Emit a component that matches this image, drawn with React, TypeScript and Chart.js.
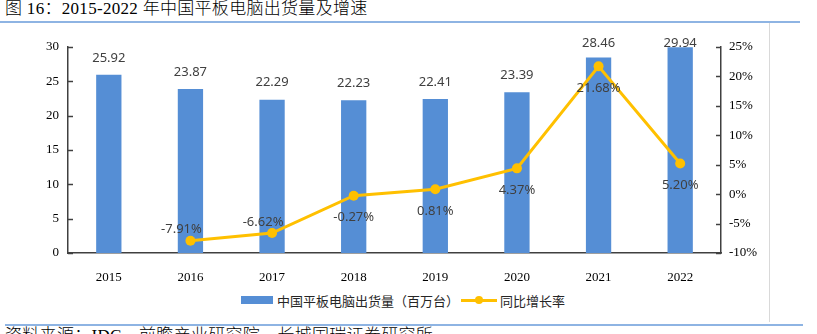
import React, { useEffect, useRef } from "react";
import { Chart, registerables } from "chart.js";

Chart.register(...registerables);

const years = ["2015", "2016", "2017", "2018", "2019", "2020", "2021", "2022"];
const shipments = [25.92, 23.87, 22.29, 22.23, 22.41, 23.39, 28.46, 29.94];
const growth = [null, -7.91, -6.62, -0.27, 0.81, 4.37, 21.68, 5.2];
const leftTicks = [0, 5, 10, 15, 20, 25, 30];
const rightTicks = [-10, -5, 0, 5, 10, 15, 20, 25];

const BAR_COLOR = "#558ED5";
const LINE_COLOR = "#FFC000";
const LABEL_COLOR = "#404040";
const AXIS_COLOR = "#404040";

const labelsPlugin = {
  id: "customLabels",
  afterDatasetsDraw(chart: any) {
    const ctx = chart.ctx;
    const area = chart.chartArea;
    ctx.save();
    ctx.font = '13px "Noto Sans", "Open Sans", sans-serif';
    ctx.fillStyle = LABEL_COLOR;
    ctx.textAlign = "center";
    ctx.textBaseline = "middle";
    const barMeta = chart.getDatasetMeta(0);
    barMeta.data.forEach((el: any, i: number) => {
      const y = Math.max(el.y - 17, area.top - 4);
      ctx.fillText(shipments[i].toFixed(2), el.x, y);
    });
    const lineMeta = chart.getDatasetMeta(1);
    lineMeta.data.forEach((el: any, i: number) => {
      const v = growth[i];
      if (v === null || v === undefined) return;
      const txt = v.toFixed(2) + "%";
      if (v < -1) {
        ctx.fillText(txt, el.x - 9, el.y - 11);
      } else {
        ctx.fillText(txt, el.x, el.y + 22);
      }
    });
    ctx.restore();
  },
};

const tickMarksPlugin = {
  id: "innerTicks",
  afterDraw(chart: any) {
    const ctx = chart.ctx;
    const y = chart.scales.y;
    const y1 = chart.scales.y1;
    ctx.save();
    ctx.strokeStyle = AXIS_COLOR;
    ctx.lineWidth = 1.5;
    leftTicks.forEach((t) => {
      const py = Math.round(y.getPixelForValue(t)) + 0.5;
      ctx.beginPath();
      ctx.moveTo(y.right, py);
      ctx.lineTo(y.right + 5, py);
      ctx.stroke();
    });
    rightTicks.forEach((t) => {
      const py = Math.round(y1.getPixelForValue(t)) + 0.5;
      ctx.beginPath();
      ctx.moveTo(y1.left - 5, py);
      ctx.lineTo(y1.left, py);
      ctx.stroke();
    });
    ctx.restore();
  },
};

export default function App() {
  const canvasRef = useRef<HTMLCanvasElement>(null);

  useEffect(() => {
    if (!canvasRef.current) return;
    const serifFont = { family: '"Liberation Serif", "Times New Roman", serif', size: 13 };
    const chart = new Chart(canvasRef.current, {
      type: "bar",
      data: {
        labels: years,
        datasets: [
          {
            type: "bar",
            label: "中国平板电脑出货量（百万台）",
            data: shipments,
            backgroundColor: BAR_COLOR,
            barPercentage: 1,
            categoryPercentage: 0.31,
            yAxisID: "y",
            order: 1,
          },
          {
            type: "line",
            label: "同比增长率",
            data: growth as any,
            borderColor: LINE_COLOR,
            backgroundColor: LINE_COLOR,
            borderWidth: 3,
            pointRadius: 5,
            pointBorderWidth: 0,
            pointBackgroundColor: LINE_COLOR,
            tension: 0,
            yAxisID: "y1",
            order: 0,
          },
        ],
      } as any,
      options: {
        responsive: false,
        animation: false,
        devicePixelRatio: 1,
        layout: { padding: { top: 12, left: 0, right: 0, bottom: 0 } },
        plugins: {
          legend: { display: false },
          tooltip: { enabled: false },
        },
        scales: {
          x: {
            grid: { display: false },
            border: { display: true, color: AXIS_COLOR, width: 1.5 },
            ticks: { color: "#000", font: serifFont, padding: 9 },
            afterFit: (s: any) => {
              s.height = 30;
            },
          },
          y: {
            position: "left",
            min: 0,
            max: 30,
            grid: { display: false, drawTicks: false },
            border: { display: true, color: AXIS_COLOR, width: 1.5 },
            ticks: { stepSize: 5, color: "#000", font: serifFont, padding: 9 },
            afterFit: (s: any) => {
              s.width = 68;
            },
          },
          y1: {
            position: "right",
            min: -10,
            max: 25,
            grid: { display: false, drawTicks: false },
            border: { display: true, color: AXIS_COLOR, width: 1.5 },
            ticks: {
              stepSize: 5,
              color: "#000",
              font: serifFont,
              padding: 8,
              callback: (v: any) => v + "%",
            },
            afterFit: (s: any) => {
              s.width = 49;
            },
          },
        },
      } as any,
      plugins: [labelsPlugin, tickMarksPlugin],
    });
    return () => chart.destroy();
  }, []);

  const cjk = '"Liberation Serif", "Noto Sans CJK SC", serif';
  const sans = '"Noto Sans CJK SC", "Noto Sans", sans-serif';

  return (
    <div
      style={{
        position: "absolute",
        left: 0,
        top: 0,
        width: 817,
        height: 334,
        overflow: "hidden",
        background: "#fff",
      }}
    >
      <div
        style={{
          position: "absolute",
          left: 5,
          top: -1,
          fontFamily: cjk,
          fontSize: 17,
          fontWeight: 300,
          letterSpacing: 0.3,
          lineHeight: "20px",
          color: "#000",
          whiteSpace: "nowrap",
        }}
      >
        图 16：2015-2022 年中国平板电脑出货量及增速
      </div>
      <div style={{ position: "absolute", left: 0, top: 21, width: 800, height: 2, background: "#8EB4E3" }} />
      <div style={{ position: "absolute", left: 769, top: 23, width: 1, height: 299, background: "#D9D9D9" }} />
      <div style={{ position: "absolute", left: 0, top: 30, width: 770, height: 253 }}>
        <canvas ref={canvasRef} width={770} height={253} style={{ display: "block" }} />
      </div>
      <div
        style={{
          position: "absolute",
          left: 241,
          top: 291,
          height: 18,
          display: "flex",
          alignItems: "center",
          fontFamily: sans,
          fontSize: 13,
          color: "#262626",
          whiteSpace: "nowrap",
        }}
      >
        <span style={{ display: "inline-block", width: 32, height: 8, background: BAR_COLOR, marginRight: 4 }} />
        <span>中国平板电脑出货量（百万台）</span>
        <span style={{ position: "relative", display: "inline-block", width: 36, height: 10, marginLeft: 2, marginRight: 3 }}>
          <span style={{ position: "absolute", left: 0, top: 3.5, width: 36, height: 3, background: LINE_COLOR }} />
          <span style={{ position: "absolute", left: 14, top: 1, width: 8, height: 8, borderRadius: 4, background: LINE_COLOR }} />
        </span>
        <span>同比增长率</span>
      </div>
      <div style={{ position: "absolute", left: 5, top: 324, width: 798, height: 2, background: "#8EB4E3" }} />
      <div
        style={{
          position: "absolute",
          left: 5,
          top: 326,
          fontFamily: cjk,
          fontSize: 17,
          fontWeight: 300,
          letterSpacing: 0.3,
          lineHeight: "20px",
          color: "#000",
          whiteSpace: "nowrap",
        }}
      >
        资料来源：IDC，前瞻产业研究院，长城国瑞证券研究所
      </div>
    </div>
  );
}
